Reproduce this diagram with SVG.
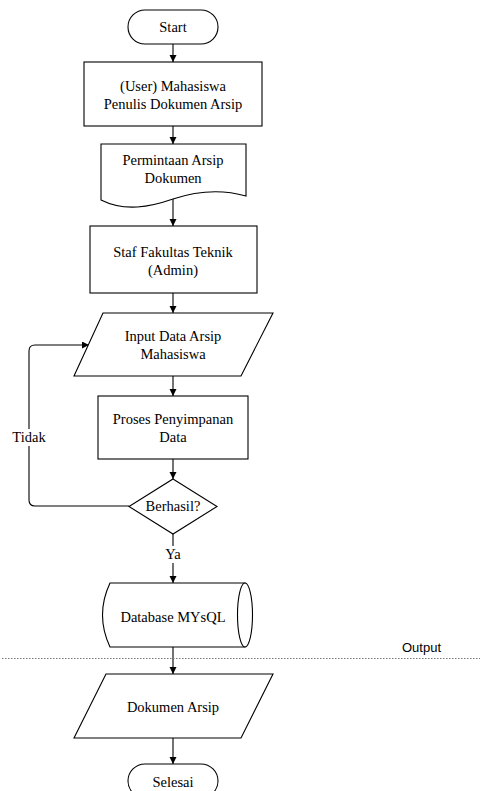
<svg xmlns="http://www.w3.org/2000/svg" width="480" height="791" viewBox="0 0 480 791">
<defs>
<marker id="arr" markerUnits="userSpaceOnUse" markerWidth="8" markerHeight="8" refX="7" refY="3.5" orient="auto">
<path d="M0,0 L7,3.5 L0,7 Z" fill="#000"/>
</marker>
<style>
.s{fill:#fff;stroke:#000;stroke-width:1.1}
.t{font-family:"Liberation Serif","Times New Roman",serif;font-size:14.5px;fill:#000;text-anchor:middle}
.c{fill:none;stroke:#000;stroke-width:1.1}
.a{marker-end:url(#arr)}
</style>
</defs>
<rect width="480" height="791" fill="#fff"/>
<g id="connectors">
<line class="c a" x1="173" y1="44" x2="173" y2="62"/>
<line class="c a" x1="173" y1="126" x2="173" y2="144"/>
<line class="c a" x1="173" y1="199" x2="173" y2="226"/>
<line class="c a" x1="173" y1="293" x2="173" y2="313"/>
<line class="c a" x1="173" y1="376" x2="173" y2="396"/>
<line class="c a" x1="173" y1="459" x2="173" y2="479"/>
<line class="c a" x1="173" y1="534" x2="173" y2="583"/>
<line class="c a" x1="173" y1="647" x2="173" y2="674"/>
<line class="c a" x1="173" y1="738" x2="173" y2="764"/>
<path class="c a" d="M129,506 H35 Q29,506 29,500 V351 Q29,345 35,345 H89"/>
<rect x="11" y="429" width="36" height="17" fill="#fff"/>
<text class="t" x="29" y="442">Tidak</text>
<rect x="164" y="546" width="18" height="17" fill="#fff"/>
<text class="t" x="173" y="559">Ya</text>
</g>
<g id="start">
<rect class="s" x="128" y="10" width="90" height="34" rx="17"/>
<text class="t" x="173" y="32">Start</text>
</g>
<g id="user">
<rect class="s" x="84" y="62" width="178" height="64"/>
<text class="t" x="173" y="91">(User) Mahasiswa</text>
<text class="t" x="173" y="109">Penulis Dokumen Arsip</text>
</g>
<g id="permintaan">
<path class="s" d="M101,144 H246 V196 C225,190 200,190 173,199 C150,207 125,212 101,200 Z"/>
<text class="t" x="173" y="165">Permintaan Arsip</text>
<text class="t" x="173" y="183">Dokumen</text>
</g>
<g id="staf">
<rect class="s" x="90" y="226" width="167" height="67"/>
<text class="t" x="173" y="257">Staf Fakultas Teknik</text>
<text class="t" x="173" y="275">(Admin)</text>
</g>
<g id="input">
<polygon class="s" points="103,313 273,313 241,376 74,376"/>
<text class="t" x="173" y="341">Input Data Arsip</text>
<text class="t" x="173" y="359">Mahasiswa</text>
</g>
<g id="proses">
<rect class="s" x="98" y="396" width="150" height="63"/>
<text class="t" x="173" y="424">Proses Penyimpanan</text>
<text class="t" x="173" y="442">Data</text>
</g>
<g id="berhasil">
<polygon class="s" points="173,479 217,506.5 173,534 129,506.5"/>
<text class="t" x="173" y="511">Berhasil?</text>
</g>
<g id="database">
<path class="s" d="M110,583 H245 V647 H110 Q95,615 110,583 Z"/>
<ellipse class="s" cx="245" cy="615" rx="7.5" ry="32"/>
<text class="t" x="173" y="622">Database MYsQL</text>
</g>
<g id="divider">
<line x1="2" y1="658.5" x2="480" y2="658.5" stroke="#777" stroke-width="1" stroke-dasharray="1.5 1.5"/>
<text x="402" y="652" font-family="'Liberation Sans',Arial,sans-serif" font-size="13px" fill="#000">Output</text>
</g>
<g id="dokumen">
<polygon class="s" points="106,674 273,674 241,738 74,738"/>
<text class="t" x="173" y="712">Dokumen Arsip</text>
</g>
<g id="selesai">
<rect class="s" x="128" y="764" width="90" height="34" rx="17"/>
<text class="t" x="173" y="787">Selesai</text>
</g>
</svg>
